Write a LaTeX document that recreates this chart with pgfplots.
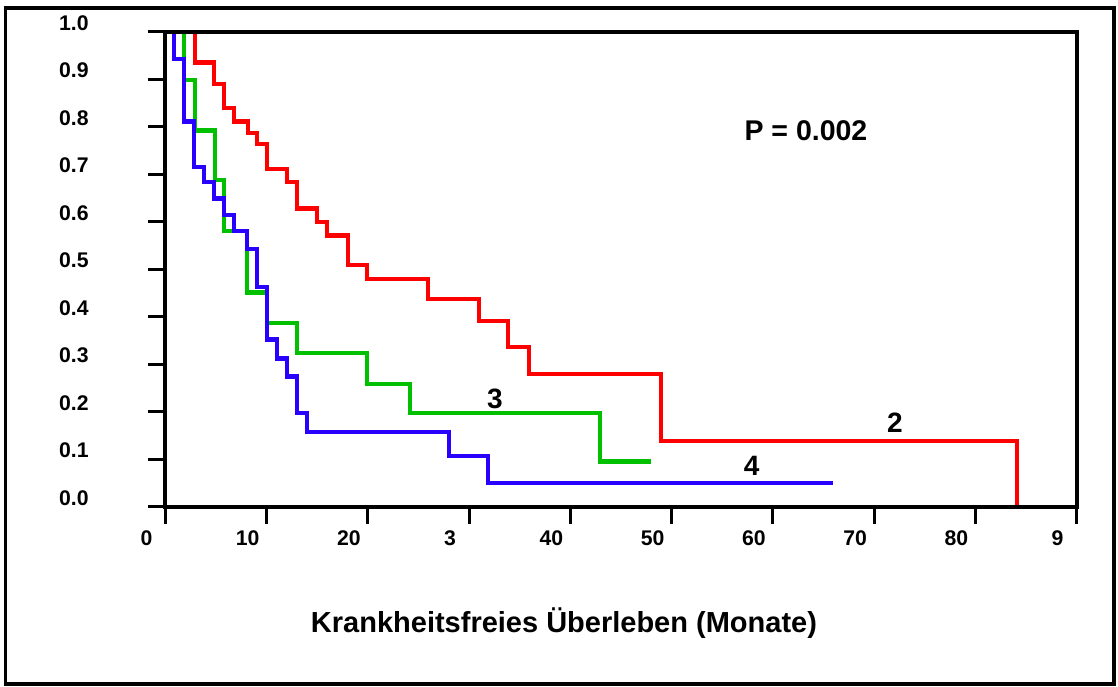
\documentclass[border=0pt]{standalone}
\usepackage{pgfplots}
\pgfplotsset{compat=1.18}
\usepackage{fontspec}
\setmainfont{Liberation Sans}
\definecolor{kmred}{RGB}{255,0,0}
\definecolor{kmgreen}{RGB}{0,192,0}
\definecolor{kmblue}{RGB}{40,0,255}
\begin{document}
\begin{tikzpicture}
\useasboundingbox (0,0) rectangle (559pt,-343pt);
\draw[line width=1.7pt] (2.6pt,-4pt) rectangle (557pt,-342pt);
\begin{axis}[
  at={(82.7pt,-253.35pt)}, anchor=south west,
  scale only axis, width=455.6pt, height=237.5pt,
  xmin=0, xmax=90, ymin=0, ymax=1,
  axis line style={line width=2pt},
  xtick={0,10,20,30,40,50,60,70,80,90},
  xticklabels={0,10,20,3,40,50,60,70,80,9},
  ytick={0,0.1,0.2,0.3,0.4,0.5,0.6,0.7,0.8,0.9,1},
  yticklabels={0.0,0.1,0.2,0.3,0.4,0.5,0.6,0.7,0.8,0.9,1.0},
  tick pos=left,
  tick align=outside, major tick length=8.5pt,
  tick style={line width=1.6pt, black},
  ticklabel style={font=\fontsize{10.6}{12}\selectfont\bfseries, inner sep=0pt},
  xticklabel style={anchor=north, xshift=-9.5pt, yshift=-3.5pt},
  yticklabel style={anchor=east, xshift=-29.7pt, yshift=4.5pt},
  axis on top,
  every axis plot/.append style={line width=2.1pt, no marks, const plot},
]
\addplot[kmred] coordinates {
(0,1.0) (2.9,0.935) (4.83,0.89) (5.82,0.839) (6.78,0.811) (8.19,0.787)
(9.08,0.763) (10.0,0.711) (11.98,0.684) (12.97,0.628) (14.94,0.600)
(15.93,0.571) (18.0,0.509) (19.88,0.480) (25.97,0.437) (31.0,0.391)
(33.87,0.336) (35.91,0.279) (48.95,0.139) (84.08,0.0)
};
\addplot[kmgreen] coordinates {
(0,1) (1.87,0.899) (2.92,0.792) (4.90,0.688) (5.79,0.581) (8.09,0.451)
(10.07,0.386) (13.03,0.324) (19.88,0.258) (24.16,0.197) (42.92,0.095)
(47.93,0.095)
};
\addplot[kmblue] coordinates {
(0,1) (0.88,0.942) (1.84,0.811) (2.86,0.716) (3.84,0.684) (4.83,0.649)
(5.82,0.614) (6.78,0.581) (8.09,0.542) (9.08,0.463) (10.0,0.352)
(11.05,0.312) (12.04,0.274) (13.03,0.197) (14.01,0.158) (28.01,0.107)
(31.89,0.050) (65.97,0.050)
};
\node[font=\fontsize{14.25}{16}\selectfont\bfseries] at (axis cs:63.27,0.791) {P = 0.002};
\node[font=\fontsize{14}{16}\selectfont\bfseries] at (axis cs:32.55,0.228) {3};
\node[font=\fontsize{14}{16}\selectfont\bfseries] at (axis cs:72.06,0.176) {2};
\node[font=\fontsize{14}{16}\selectfont\bfseries] at (axis cs:57.9,0.087) {4};
\end{axis}
\node[font=\fontsize{14.5}{17}\selectfont\bfseries] at (282pt,-311.5pt) {Krankheitsfreies Überleben (Monate)};
\end{tikzpicture}
\end{document}
